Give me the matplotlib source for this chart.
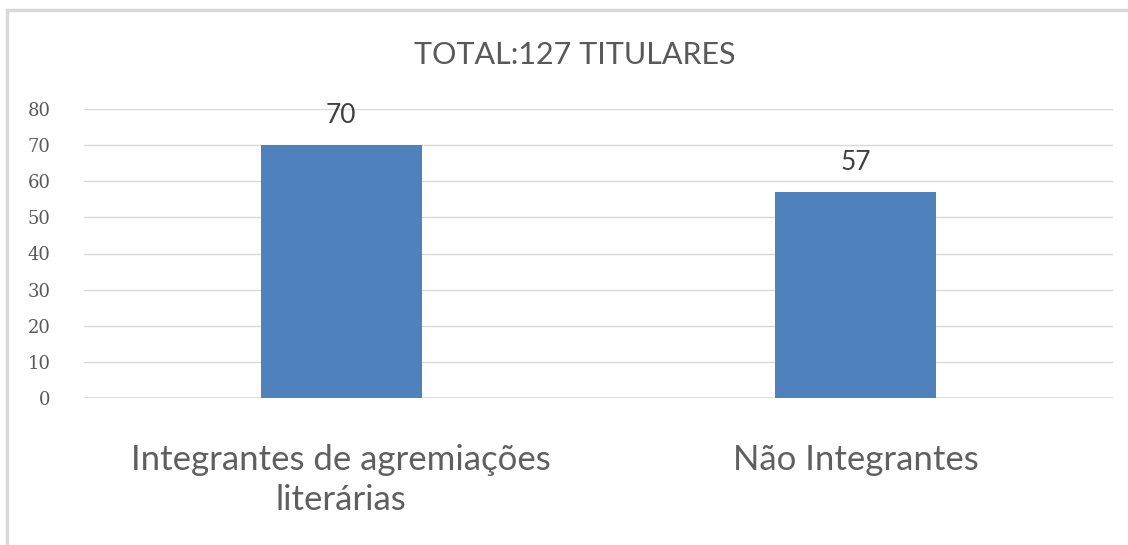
import matplotlib.pyplot as plt
from matplotlib.patches import Rectangle

categorias = ['Integrantes de agremiações\nliterárias', 'Não Integrantes']
valores = [70, 57]
titulo = 'TOTAL:127 TITULARES'

fig = plt.figure(figsize=(11.28, 5.45), dpi=100)
ax = fig.add_axes([84 / 1128, 1 - 398 / 545, (1113 - 84) / 1128, (398 - 109) / 545])

# moldura cinza (só topo e esquerda aparecem)
fig.patches.append(Rectangle((7 / 1128, -0.05), 1.1, 1 - 10 / 545 + 0.05,
                             transform=fig.transFigure, fill=False,
                             edgecolor='#d9d9d9', linewidth=2.5))

x = range(len(valores))
barras = ax.bar(x, valores, width=0.313, color='#4f81bd', zorder=3)
for b, v in zip(barras, valores):
    ax.text(b.get_x() + b.get_width() / 2, v + 8.3, str(v), ha='center', va='center',
            fontsize=19, color='#404040', family='Lato')

ax.set_xlim(-0.5, 1.5)
ax.set_ylim(0, 80)
ax.set_yticks(range(0, 81, 10))
ax.yaxis.grid(True, color='#d9d9d9', linewidth=1, zorder=0)
for s in ax.spines.values():
    s.set_visible(False)
ax.axhline(0, color='#d9d9d9', linewidth=1.3, zorder=2)
ax.tick_params(axis='y', length=0, pad=24, labelsize=13, labelcolor='#595959')
ax.tick_params(axis='x', length=0, pad=33)
for lab in ax.get_yticklabels():
    lab.set_family('DejaVu Serif')
ax.set_xticks(list(x))
ax.set_xticklabels(categorias, fontsize=25, color='#5f5f5f', family='Lato', linespacing=1.3)

fig.text(575 / 1128, 1 - 55 / 545, titulo, ha='center', va='center', fontsize=22,
         color='#595959', family='Lato')

fig.savefig('out.png', dpi=100)
